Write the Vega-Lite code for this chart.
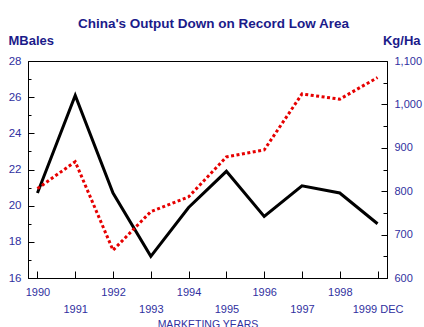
{
  "$schema": "https://vega.github.io/schema/vega-lite/v6.json",
  "autosize": {"type": "none"},
  "width": 359,
  "height": 217,
  "padding": {"left": 28, "top": 61, "right": 37, "bottom": 49},
  "title": {
    "text": "China's Output Down on Record Low Area",
    "font": "Liberation Sans",
    "fontSize": 13.5,
    "fontWeight": "bold",
    "color": "#1b1b8a",
    "anchor": "middle",
    "dx": 6,
    "offset": 4
  },
  "config": {
    "view": {"stroke": "#000000", "strokeWidth": 1},
    "axis": {
      "grid": false,
      "domainColor": "#000000",
      "domainWidth": 1,
      "tickColor": "#000000",
      "tickWidth": 1,
      "labelFont": "Liberation Sans",
      "labelFontSize": 11,
      "labelColor": "#3030a0",
      "titleFont": "Liberation Sans",
      "titleColor": "#1b1b8a",
      "labelOverlap": false,
      "labelFlush": false
    }
  },
  "data": {
    "values": [
      {"year": 1990, "mbales": 20.7, "kgha": 806},
      {"year": 1991, "mbales": 26.1, "kgha": 868},
      {"year": 1992, "mbales": 20.7, "kgha": 664},
      {"year": 1993, "mbales": 17.2, "kgha": 753},
      {"year": 1994, "mbales": 19.9, "kgha": 787},
      {"year": 1995, "mbales": 21.9, "kgha": 879},
      {"year": 1996, "mbales": 19.4, "kgha": 895},
      {"year": 1997, "mbales": 21.1, "kgha": 1024},
      {"year": 1998, "mbales": 20.7, "kgha": 1012},
      {"year": 1999, "mbales": 19.0, "kgha": 1062}
    ]
  },
  "encoding": {
    "x": {
      "field": "year",
      "type": "quantitative",
      "scale": {"domain": [1989.75, 1999.25], "nice": false, "zero": false},
      "axis": {
        "values": [1990, 1991, 1992, 1993, 1994, 1995, 1996, 1997, 1998, 1999],
        "format": "d",
        "labelExpr": "datum.value === 1999 ? ['', '1999 DEC'] : (datum.value % 2 === 1 ? ['', datum.label] : datum.label)",
        "labelLineHeight": 17,
        "labelBaseline": "top",
        "tickSize": -7,
        "labelPadding": 15,
        "title": "MARKETING YEARS",
        "titleFontSize": 10.5,
        "titleFontWeight": "normal",
        "titleColor": "#3030a0",
        "titleBaseline": "alphabetic",
        "titleY": 49
      }
    }
  },
  "layer": [
    {
      "mark": {"type": "line", "color": "#000000", "strokeWidth": 3},
      "encoding": {
        "y": {
          "field": "mbales",
          "type": "quantitative",
          "scale": {"domain": [16, 28], "nice": false, "zero": false},
          "axis": {
            "orient": "left",
            "values": [16, 17, 18, 19, 20, 21, 22, 23, 24, 25, 26, 27, 28],
            "labelExpr": "datum.value % 2 === 0 ? datum.label : ''",
            "labelFontSize": 11.5,
            "tickSize": -6,
            "tickDash": {"condition": {"test": "datum.value % 2 === 0", "value": []}, "value": [3, 6]},
            "labelPadding": 13,
            "title": "MBales",
            "titleFontSize": 13,
            "titleFontWeight": "bold",
            "titleAngle": 0,
            "titleAlign": "left",
            "titleBaseline": "alphabetic",
            "titleX": -20,
            "titleY": -17
          }
        }
      }
    },
    {
      "mark": {"type": "line", "color": "#e60000", "strokeWidth": 3, "strokeDash": [3, 2.5]},
      "encoding": {
        "y": {
          "field": "kgha",
          "type": "quantitative",
          "scale": {"domain": [600, 1100], "nice": false, "zero": false},
          "axis": {
            "orient": "right",
            "values": [600, 650, 700, 750, 800, 850, 900, 950, 1000, 1050, 1100],
            "format": ",d",
            "labelExpr": "datum.value % 100 === 0 ? datum.label : ''",
            "tickSize": -6,
            "tickDash": {"condition": {"test": "datum.value % 100 === 0", "value": []}, "value": [4, 6]},
            "labelPadding": 13,
            "title": "Kg/Ha",
            "titleFontSize": 13,
            "titleFontWeight": "bold",
            "titleAngle": 0,
            "titleAlign": "right",
            "titleBaseline": "alphabetic",
            "titleX": 33,
            "titleY": -17
          }
        }
      }
    }
  ],
  "resolve": {"scale": {"y": "independent"}}
}
